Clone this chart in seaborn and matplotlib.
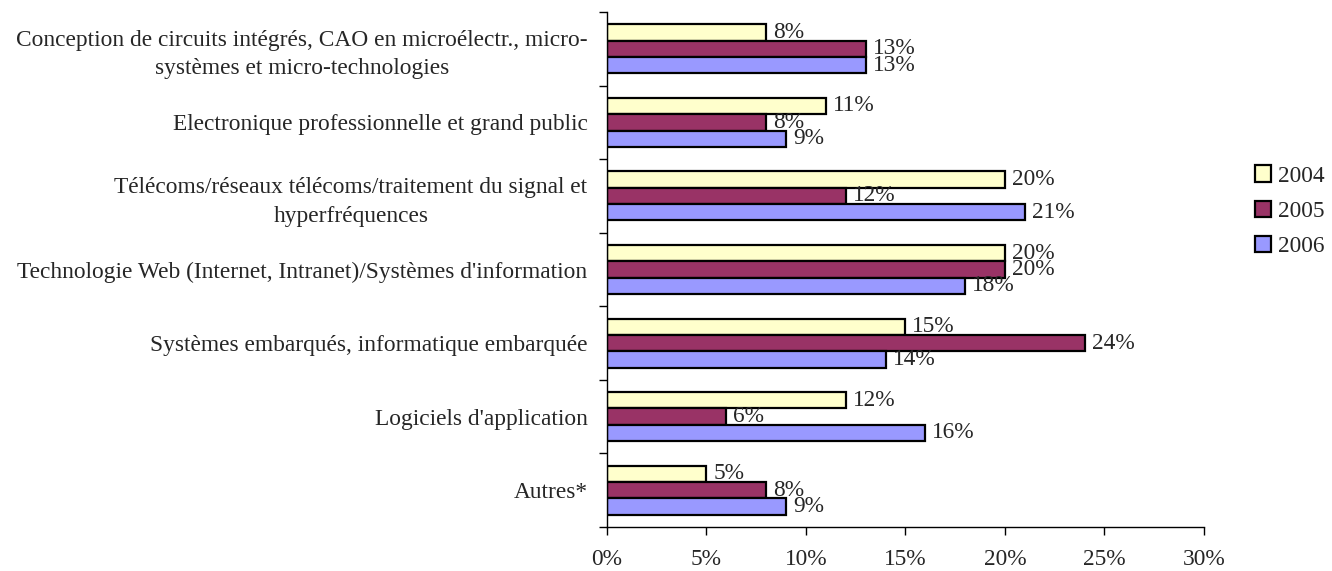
import pandas as pd
import seaborn as sns
import matplotlib.pyplot as plt
from matplotlib.ticker import FixedLocator

# Categories, top to bottom
categories = [
    "Conception de circuits intégrés, CAO en microélectr., micro-\nsystèmes et micro-technologies",
    "Electronique professionnelle et grand public",
    "Télécoms/réseaux télécoms/traitement du signal et\nhyperfréquences",
    "Technologie Web (Internet, Intranet)/Systèmes d'information",
    "Systèmes embarqués, informatique embarquée",
    "Logiciels d'application",
    "Autres*",
]
years = ["2004", "2005", "2006"]
values_2004 = [8, 11, 20, 20, 15, 12, 5]
values_2005 = [13, 8, 12, 20, 24, 6, 8]
values_2006 = [13, 9, 21, 18, 14, 16, 9]
x_ticks = [0, 5, 10, 15, 20, 25, 30]

colors = ["#FFFFCC", "#993366", "#9999FF"]

# Long-form table for seaborn
rows = []
for year, vals in zip(years, [values_2004, values_2005, values_2006]):
    for cat, v in zip(categories, vals):
        rows.append({"category": cat, "year": year, "value": v})
df = pd.DataFrame(rows)

sns.set_style("white")
plt.rcParams["font.family"] = ["Liberation Serif", "DejaVu Serif"]
fs = 16.8
plt.rcParams["font.size"] = fs

fig = plt.figure(figsize=(13.32, 5.71), dpi=100)
ax = fig.add_axes([0.4557, 0.0771, 0.4482, 0.9019])

sns.barplot(data=df, y="category", x="value", hue="year", order=categories,
            hue_order=years, palette=colors, orient="h", width=0.667,
            edgecolor="black", linewidth=1.6, saturation=1, ax=ax)

# value labels
for container, vals in zip(ax.containers, [values_2004, values_2005, values_2006]):
    ax.bar_label(container, labels=[f"{v}%" for v in vals], padding=5, fontsize=fs)

ax.set_xlim(0, 30)
ax.set_ylim(len(categories) - 0.5, -0.5)
ax.set_xticks(x_ticks)
ax.set_xticklabels([f"{t}%" for t in x_ticks])
ax.set_xlabel("")
ax.set_ylabel("")

# category labels centred on each group, separator ticks between groups
ax.set_yticks(range(len(categories)))
ax.set_yticklabels(categories)
for lbl in ax.get_yticklabels():
    lbl.set_multialignment("center")
    lbl.set_linespacing(1.45)
ax.yaxis.set_minor_locator(FixedLocator([i - 0.5 for i in range(len(categories) + 1)]))
ax.tick_params(axis="y", which="major", length=0, pad=14)
ax.tick_params(axis="y", which="minor", length=6, width=1, color="black", left=True)
ax.tick_params(axis="x", length=6, width=1, color="black", bottom=True, pad=10)

for side in ["top", "right"]:
    ax.spines[side].set_visible(False)
for side in ["left", "bottom"]:
    ax.spines[side].set_color("black")
    ax.spines[side].set_linewidth(1)

leg = ax.legend(loc="upper left", bbox_to_anchor=(0.935, 0.727),
                bbox_transform=fig.transFigure, frameon=False,
                handlelength=0.7, handleheight=0.7, handletextpad=0.3,
                labelspacing=0.6, borderaxespad=0, fontsize=fs)
for h in leg.legend_handles:
    h.set_edgecolor("black")
    h.set_linewidth(1.6)

fig.savefig("out.png", dpi=100)
